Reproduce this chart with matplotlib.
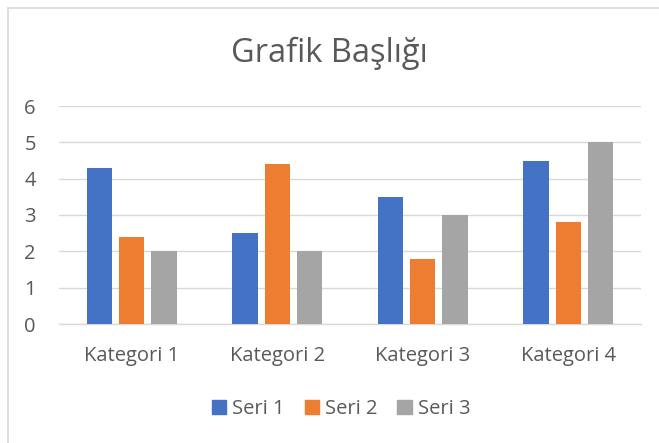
import matplotlib
matplotlib.use("Agg")
import matplotlib.pyplot as plt
import numpy as np
from matplotlib.lines import Line2D

categories = ["Kategori 1", "Kategori 2", "Kategori 3", "Kategori 4"]
series_names = ["Seri 1", "Seri 2", "Seri 3"]
seri1 = [4.3, 2.5, 3.5, 4.5]
seri2 = [2.4, 4.4, 1.8, 2.8]
seri3 = [2, 2, 3, 5]
colors = ["#4472C4", "#ED7D31", "#A5A5A5"]
yticks = [0, 1, 2, 3, 4, 5, 6]

plt.rcParams['font.family'] = ['Open Sans', 'DejaVu Sans']
W, H = 659, 443
fig = plt.figure(figsize=(W/100, H/100), dpi=100)
ax = fig.add_axes([59/W, 119/H, 582/W, 218/H])

x = np.arange(len(categories))
width = 0.175
offset = 0.222
for i, (vals, c, name) in enumerate(zip([seri1, seri2, seri3], colors, series_names)):
    ax.bar(x + (i - 1) * offset, vals, width, color=c, label=name, zorder=3)

ax.set_xlim(-0.5, 3.5)
ax.set_ylim(0, 6)
ax.set_yticks(yticks)
ax.set_xticks(x)
ax.set_xticklabels(categories)
ax.tick_params(axis='both', length=0, labelsize=14.5, colors="#595959")
ax.tick_params(axis='x', pad=16)
ax.tick_params(axis='y', pad=25)
for lab in ax.get_yticklabels():
    lab.set_horizontalalignment('left')
ax.grid(axis='y', color="#D9D9D9", linewidth=1.0, zorder=0)
for s in ["top", "right", "left"]:
    ax.spines[s].set_visible(False)
ax.spines["bottom"].set_color("#D9D9D9")
ax.spines["bottom"].set_linewidth(1.0)

fig.text(0.5, 1 - 53/H, "Grafik Başlığı", ha="center", va="center", fontsize=23.5, color="#595959")

handles = [plt.Rectangle((0, 0), 1, 1, color=c) for c in colors]
fig.legend(handles, series_names, loc="center", bbox_to_anchor=(341/W, 1 - 409/H), ncol=3,
           frameon=False, fontsize=14.5, labelcolor="#595959", handlelength=0.7, handleheight=0.7,
           handletextpad=0.3, columnspacing=1.0)

fig.add_artist(Line2D([7.5/W, 7.5/W], [0, 1 - 8/H], transform=fig.transFigure, color="#D9D9D9", linewidth=1.2))
fig.add_artist(Line2D([7.5/W, 1], [1 - 8/H, 1 - 8/H], transform=fig.transFigure, color="#D9D9D9", linewidth=1.2))

fig.savefig("out.png", dpi=100)
